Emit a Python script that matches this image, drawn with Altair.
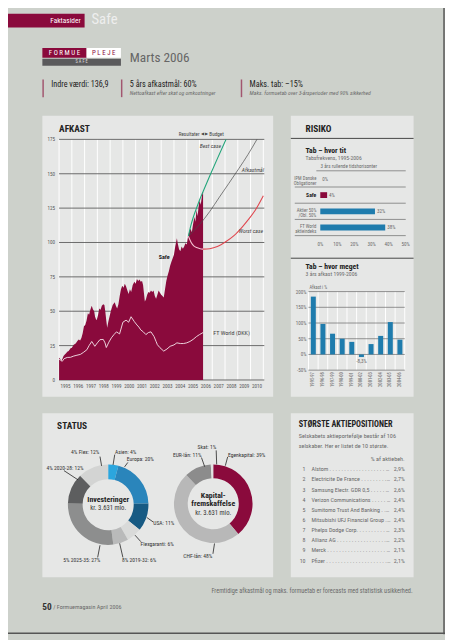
import altair as alt
import pandas as pd

# ------------------------------------------------------------------ data
safe_series = [
    (1995.00, 16.2), (1995.08, 15.5), (1995.17, 14.0), (1995.25, 15.0), (1995.35, 17.5),
    (1995.45, 18.5), (1995.55, 19.5), (1995.64, 20.5), (1995.75, 21.0), (1995.90, 23.0),
    (1996.00, 23.5), (1996.15, 25.7), (1996.30, 26.5), (1996.45, 28.5), (1996.54, 29.5),
    (1996.65, 28.8), (1996.75, 30.5), (1996.85, 34.0), (1996.95, 39.0), (1997.05, 40.0),
    (1997.15, 43.0), (1997.26, 48.6), (1997.35, 47.5), (1997.45, 51.0), (1997.56, 54.0),
    (1997.65, 51.5), (1997.75, 50.0), (1997.82, 46.0), (1997.90, 44.0), (1997.95, 43.6),
    (1998.05, 47.0), (1998.15, 52.0), (1998.25, 51.0), (1998.35, 54.0), (1998.46, 55.0),
    (1998.55, 54.5), (1998.62, 50.0), (1998.70, 43.0), (1998.77, 38.0), (1998.85, 42.0),
    (1998.95, 46.0), (1999.05, 50.0), (1999.20, 54.5), (1999.36, 56.5), (1999.45, 54.0),
    (1999.55, 52.0), (1999.65, 55.0), (1999.75, 61.0), (1999.85, 66.0), (1999.95, 68.5),
    (2000.05, 67.0), (2000.15, 70.0), (2000.25, 68.0), (2000.35, 65.0), (2000.45, 62.5),
    (2000.55, 66.0), (2000.65, 64.0), (2000.77, 69.0), (2000.90, 71.5), (2001.00, 70.0),
    (2001.10, 73.5), (2001.20, 72.0), (2001.30, 73.0), (2001.40, 71.5), (2001.50, 72.0),
    (2001.58, 69.0), (2001.65, 63.0), (2001.72, 57.0), (2001.80, 58.5), (2001.90, 62.0),
    (2002.00, 64.0), (2002.10, 63.5), (2002.20, 65.0), (2002.30, 64.0), (2002.40, 65.0),
    (2002.50, 61.0), (2002.60, 59.0), (2002.70, 62.0), (2002.80, 65.0), (2002.90, 63.5),
    (2003.00, 62.0), (2003.10, 61.0), (2003.20, 60.0), (2003.30, 66.0), (2003.40, 72.0),
    (2003.50, 76.0), (2003.60, 79.0), (2003.70, 83.0), (2003.80, 86.0), (2003.90, 88.5),
    (2004.00, 91.0), (2004.10, 97.0), (2004.23, 103.0), (2004.30, 99.0), (2004.40, 95.0),
    (2004.50, 93.6), (2004.60, 97.0), (2004.70, 95.5), (2004.80, 97.0), (2004.90, 99.5),
    (2005.00, 98.5), (2005.10, 104.0), (2005.20, 108.0), (2005.30, 110.0), (2005.40, 107.5),
    (2005.50, 113.5), (2005.60, 118.6), (2005.68, 115.0), (2005.77, 123.6), (2005.85, 119.0),
    (2005.93, 126.0), (2006.00, 130.7), (2006.10, 127.5), (2006.18, 133.0), (2006.23, 136.4),
    (2006.28, 136.9),
]
ftworld_series = [
    (1995.00, 15.0), (1995.10, 14.5), (1995.25, 13.6), (1995.40, 15.5), (1995.64, 16.4),
    (1995.90, 16.5), (1996.15, 17.4), (1996.40, 18.0), (1996.67, 18.6), (1996.90, 20.0),
    (1997.18, 22.0), (1997.35, 25.0), (1997.56, 28.0), (1997.70, 26.0), (1997.80, 24.5),
    (1998.00, 27.0), (1998.20, 29.3), (1998.46, 29.5), (1998.60, 27.0), (1998.70, 23.6),
    (1998.90, 27.5), (1999.10, 30.7), (1999.30, 33.0), (1999.50, 35.0), (1999.65, 34.0),
    (1999.74, 33.5), (2000.00, 42.0), (2000.25, 43.5), (2000.45, 42.0), (2000.64, 46.0),
    (2000.90, 42.4), (2001.10, 40.0), (2001.25, 38.5), (2001.40, 36.4), (2001.60, 35.0),
    (2001.80, 33.0), (2002.00, 34.5), (2002.20, 35.0), (2002.44, 31.6), (2002.60, 28.0),
    (2002.70, 25.7), (2002.90, 23.5), (2003.20, 21.0), (2003.45, 22.5), (2003.70, 24.5),
    (2004.00, 25.5), (2004.23, 27.0), (2004.50, 26.5), (2004.75, 26.5), (2005.00, 27.0),
    (2005.25, 28.0), (2005.50, 29.5), (2005.77, 31.6), (2006.00, 33.0), (2006.28, 34.5),
]
best_case = [(2005.13, 104.5), (2005.30, 111.5), (2005.50, 118.0), (2005.77, 125.0),
             (2006.05, 132.0), (2006.30, 137.5), (2006.80, 148.3), (2007.40, 161.0),
             (2008.08, 175.0)]
goal_case = [(2005.13, 104.5), (2006.00, 113.0), (2006.80, 122.5), (2007.56, 133.0),
             (2008.30, 143.0), (2009.10, 154.0), (2009.80, 164.0), (2010.50, 175.0)]
worst_case = [(2005.13, 104.5), (2005.35, 100.0), (2005.55, 97.5), (2005.77, 96.3),
              (2006.05, 95.5), (2006.28, 95.2), (2006.80, 95.5), (2007.40, 97.0),
              (2008.08, 100.7), (2008.70, 105.0), (2009.36, 111.4), (2009.90, 117.5),
              (2010.38, 123.6), (2011.00, 134.0)]
afk_yticks = [0, 25, 50, 75, 100, 125, 150, 175]
afk_years = list(range(1995, 2011))

risk_rows = ["IPM Danske\nObligationer", "Safe", "Aktier 50%\n/Obl. 50%", "FT World\naktieindeks"]
risk_vals = [0, 4, 32, 38]
risk_lbls = ["0%", "4%", "32%", "38%"]
risk_ticks = [0, 10, 20, 30, 40, 50]

loss_periods = ["1995-97", "1996-98", "1997-99", "1998-00", "1999-01",
                "2000-02", "2001-03", "2002-04", "2003-05", "2004-06"]
loss_vals = [184, 97, 66, 50, 40, -8.3, 33, 59, 103, 47]
loss_ticks = [200, 150, 100, 50, 0, -50]

inv_names = ["Asien", "Europa", "USA", "Flexgaranti", "8% 2019-32", "5% 2025-35", "4% 2020-28", "4% Flex"]
inv_vals = [4, 20, 11, 6, 6, 27, 12, 12]
inv_colors = ["#2ba6de", "#2a85bb", "#175a83", "#d9dad9", "#b9baba", "#8d8e8e", "#5d5e5f", "#d3d4d3"]

cap_names = ["Egenkapital", "CHF-lån", "EUR-lån", "Skat"]
cap_vals = [39, 49, 11, 1]

top_names = ["Alstom", "Electricite De France", "Samsung Electr. GDR 0,5", "Verizon Communications",
             "Sumitomo Trust And Banking", "Mitsubishi UFJ Financial Group", "Phelps Dodge Corp.",
             "Allianz AG", "Merck", "Pfizer"]
top_shares = ["2,9%", "2,7%", "2,6%", "2,4%", "2,4%", "2,4%", "2,3%", "2,2%", "2,1%", "2,1%"]

# ------------------------------------------------------------------ style
OFF = 8
W, H = 445, 632
PAGE = "#cdd1cb"
PANEL = "#e6e7e6"
MAROON = "#8a0a3c"
BLUE = "#1f7cad"
DARK = "#222222"
GREY = "#6a6a6a"
GRID = "#5c5c5c"
FN = "'Roboto Condensed', 'Liberation Sans Narrow', Lato, sans-serif"
cap_colors = [MAROON, "#b8b8b8", "#8c8c8c", "#e2e2e2"]


def p(v):
    return v - OFF


ONE = pd.DataFrame({"a": [0]})
layers = []


def T(x, y, s, size=6, color=DARK, weight="normal", style="normal", align="left", angle=0):
    kw = dict(text=s, fontSize=size, color=color, fontWeight=weight, fontStyle=style,
              align=align, baseline="middle", font=FN)
    if angle:
        kw["angle"] = angle
    layers.append(alt.Chart(ONE).mark_text(**kw).encode(x=alt.value(p(x)), y=alt.value(p(y))))


def R(x1, y1, x2, y2, color):
    layers.append(alt.Chart(ONE).mark_rect(color=color).encode(
        x=alt.value(max(p(x1), 0)), x2=alt.value(p(x2)), y=alt.value(max(p(y1), 0)), y2=alt.value(p(y2))))


def L(x1, y1, x2, y2, color=DARK, w=0.8):
    layers.append(alt.Chart(ONE).mark_rule(color=color, strokeWidth=w).encode(
        x=alt.value(p(x1)), x2=alt.value(p(x2)), y=alt.value(p(y1)), y2=alt.value(p(y2))))


def S(lo, hi, a, b):
    return alt.Scale(domain=[lo, hi], range=[p(a), p(b)], nice=False, zero=False)


# ------------------------------------------------------------------ header
R(0, 0, 86, 22, MAROON)
T(82, 15, "Faktasider", 7.5, "#ffffff", align="right")
T(93, 14, "Safe", 15, "#eeeeee")
R(43, 43, 88, 53, MAROON)
R(88, 43, 123, 53, "#ffffff")
R(43, 54, 123, 61, "#5a5a5c")
T(65.5, 48.3, "F O R M U E", 7, "#ffffff", align="center")
T(105.5, 48.3, "P L E J E", 7, MAROON, align="center")
T(83, 57.7, "S  A  F  E", 4.5, "#dddddd", align="center")
T(132, 53, "Marts 2006", 13.5, "#666666")
for bx in (43, 123, 245):
    R(bx, 75, bx + 1.5, 93, "#a2566f")
T(52, 81, "Indre værdi: 136,9", 8.3)
T(132, 81, "5 års afkastmål: 60%", 8.3)
T(132, 89, "Nettoafkast efter skat og omkostninger", 5.8, GREY, style="italic")
T(254, 81, "Maks. tab: –15%", 8.3)
T(254, 89, "Maks. formuetab over 3-årsperioder med 90% sikkerhed", 5.8, GREY, style="italic")

# panels
R(43, 112, 278, 398, PANEL)
R(296, 112, 421, 398, PANEL)
R(43, 415, 278, 582, PANEL)
R(296, 415, 421, 582, PANEL)

# ------------------------------------------------------------------ AFKAST
ax = S(1995, 2011, 60, 268)
ay = S(0, 175, 381, 136)
T(60, 125, "AFKAST", 9.5, DARK, weight="bold")

vgrid = pd.DataFrame({"t": list(range(1995, 2012))})
layers.append(alt.Chart(vgrid).mark_rule(color="#ffffff", strokeWidth=1).encode(
    x=alt.X("t:Q", scale=ax, axis=None), y=alt.value(p(136)), y2=alt.value(p(381))))
hgrid = pd.DataFrame({"v": afk_yticks})
layers.append(alt.Chart(hgrid).mark_rule(color=GRID, strokeWidth=0.9).encode(
    y=alt.Y("v:Q", scale=ay, axis=None), x=alt.value(p(60)), x2=alt.value(p(269))))
layers.append(alt.Chart(hgrid).mark_text(align="right", baseline="middle", fontSize=5.2, font=FN, color="#555555").encode(
    y=alt.Y("v:Q", scale=ay, axis=None), x=alt.value(p(56)), text=alt.Text("v:Q")))
ylab = pd.DataFrame({"t": [y + 0.5 for y in afk_years], "s": [str(y) for y in afk_years]})
layers.append(alt.Chart(ylab).mark_text(align="center", baseline="middle", fontSize=5.2, font=FN, color="#555555").encode(
    x=alt.X("t:Q", scale=ax, axis=None), y=alt.value(p(387.5)), text="s:N"))

safe_df = pd.DataFrame(safe_series, columns=["t", "v"])
layers.append(alt.Chart(safe_df).mark_area(color=MAROON).encode(
    x=alt.X("t:Q", scale=ax, axis=None), y=alt.Y("v:Q", scale=ay, axis=None)))
ft_df = pd.DataFrame(ftworld_series, columns=["t", "v"])
layers.append(alt.Chart(ft_df).mark_line(color="#f7e9ee", strokeWidth=0.9).encode(
    x=alt.X("t:Q", scale=ax, axis=None), y=alt.Y("v:Q", scale=ay, axis=None)))
goal_df = pd.DataFrame(goal_case, columns=["t", "v"])
layers.append(alt.Chart(goal_df).mark_line(color="#4a4a4a", strokeWidth=0.7, interpolate="monotone").encode(
    x=alt.X("t:Q", scale=ax, axis=None), y=alt.Y("v:Q", scale=ay, axis=None)))
best_df = pd.DataFrame(best_case, columns=["t", "v"])
layers.append(alt.Chart(best_df).mark_line(color="#22a57a", strokeWidth=1.1, interpolate="monotone").encode(
    x=alt.X("t:Q", scale=ax, axis=None), y=alt.Y("v:Q", scale=ay, axis=None)))
worst_df = pd.DataFrame(worst_case, columns=["t", "v"])
layers.append(alt.Chart(worst_df[worst_df.t <= 2006.28]).mark_line(color="#f6c3d2", strokeWidth=1.1, interpolate="monotone").encode(
    x=alt.X("t:Q", scale=ax, axis=None), y=alt.Y("v:Q", scale=ay, axis=None)))
layers.append(alt.Chart(worst_df[worst_df.t >= 2006.28]).mark_line(color="#e0474f", strokeWidth=1.1, interpolate="monotone").encode(
    x=alt.X("t:Q", scale=ax, axis=None), y=alt.Y("v:Q", scale=ay, axis=None)))

T(203, 131, "Resultater", 5.3, "#444444", align="right")
T(206, 131, "◀", 4.5, "#444444", align="center")
T(210.5, 131, "▶", 4.5, "#444444", align="center")
T(213, 131, "Budget", 5.3, "#444444")
T(225, 143, "Best case", 5.8, "#444444", style="italic", align="right")
T(246, 167, "Afkastmål", 5.8, "#444444", style="italic")
T(243, 229, "Worst case", 5.8, "#444444", style="italic")
T(167, 256, "Safe", 6.2, DARK, weight="bold", align="center")
T(217, 333, "FT World (DKK)", 6.2, "#444444")

# ------------------------------------------------------------------ RISIKO
T(311, 125, "RISIKO", 9.5, DARK, weight="bold")
L(296, 135, 421, 135, "#444444", 1)
T(311, 148, "Tab – hvor tit", 7.8, DARK, weight="bold")
T(311, 155, "Tabsfrekvens, 1995-2006", 5.8, GREY)
T(355, 163, "3 års rullende tidshorisonter", 5.2, GREY, align="center")

rx = S(0, 50, 326, 413)
ry = S(0, 4, 168, 234)
rlines = pd.DataFrame({"i": [1, 2, 3, 4]})
L(322, 168, 413, 168, "#666666", 0.7)
layers.append(alt.Chart(rlines).mark_rule(color="#666666", strokeWidth=0.7).encode(
    y=alt.Y("i:Q", scale=ry, axis=None), x=alt.value(p(300)), x2=alt.value(p(413))))
rdf = pd.DataFrame({"row": risk_rows, "v": risk_vals, "lbl": risk_lbls,
                    "lo": [0] * 4,
                    "c": [BLUE, MAROON, BLUE, BLUE],
                    "yc": [i + 0.5 for i in range(4)],
                    "y0": [i + 0.32 for i in range(4)],
                    "y1": [i + 0.68 for i in range(4)]})
layers.append(alt.Chart(rdf).mark_rect().encode(
    x=alt.X("lo:Q", scale=rx, axis=None), x2="v:Q",
    y=alt.Y("y0:Q", scale=ry, axis=None), y2="y1:Q",
    color=alt.Color("c:N", scale=None)))
layers.append(alt.Chart(rdf[rdf.row != "Safe"]).mark_text(
    align="right", baseline="middle", fontSize=4.8, font=FN, color=GREY, lineBreak="\n", lineHeight=5).encode(
    y=alt.Y("yc:Q", scale=ry, axis=None), x=alt.value(p(322)), text="row:N"))
layers.append(alt.Chart(rdf[rdf.row == "Safe"]).mark_text(
    align="right", baseline="middle", fontSize=5.8, font=FN, color=DARK, fontWeight="bold").encode(
    y=alt.Y("yc:Q", scale=ry, axis=None), x=alt.value(p(322)), text="row:N"))
layers.append(alt.Chart(rdf).mark_text(
    align="left", baseline="middle", fontSize=5.2, font=FN, color=GREY, dx=2).encode(
    y=alt.Y("yc:Q", scale=ry, axis=None), x=alt.X("v:Q", scale=rx, axis=None), text="lbl:N"))
rt = pd.DataFrame({"v": risk_ticks, "s": [f"{t}%" for t in risk_ticks]})
layers.append(alt.Chart(rt).mark_text(
    align="center", baseline="middle", fontSize=5.2, font=FN, color=GREY).encode(
    x=alt.X("v:Q", scale=rx, axis=None), y=alt.value(p(243)), text="s:N"))
L(296, 257, 421, 257, "#444444", 1)

# Tab - hvor meget
T(311, 266, "Tab – hvor meget", 7.8, DARK, weight="bold")
T(311, 273, "3 års afkast 1999-2006", 5.8, GREY)
T(315, 287, "Afkast i %", 4.6, GREY)
lx = S(0, 10, 314, 412)
ly = S(-50, 200, 371, 291)
lv = pd.DataFrame({"i": list(range(0, 11))})
layers.append(alt.Chart(lv).mark_rule(color="#ffffff", strokeWidth=1).encode(
    x=alt.X("i:Q", scale=lx, axis=None), y=alt.value(p(291)), y2=alt.value(p(371))))
lt = pd.DataFrame({"v": loss_ticks, "s": [f"{t}%" for t in loss_ticks]})
layers.append(alt.Chart(lt).mark_rule(color="#666666", strokeWidth=0.7).encode(
    y=alt.Y("v:Q", scale=ly, axis=None), x=alt.value(p(314)), x2=alt.value(p(412))))
layers.append(alt.Chart(lt).mark_text(
    align="right", baseline="middle", fontSize=5.2, font=FN, color=GREY).encode(
    y=alt.Y("v:Q", scale=ly, axis=None), x=alt.value(p(312)), text="s:N"))
ldf = pd.DataFrame({"per": loss_periods, "v": loss_vals, "zero": [0] * 10,
                    "c": [i + 0.5 for i in range(10)],
                    "x0": [i + 0.24 for i in range(10)],
                    "x1": [i + 0.76 for i in range(10)]})
layers.append(alt.Chart(ldf).mark_rect(color=BLUE).encode(
    x=alt.X("x0:Q", scale=lx, axis=None), x2="x1:Q",
    y=alt.Y("zero:Q", scale=ly, axis=None), y2="v:Q"))
layers.append(alt.Chart(ldf).mark_text(
    align="right", baseline="middle", fontSize=4.7, font=FN, color=GREY, angle=270).encode(
    x=alt.X("c:Q", scale=lx, axis=None), y=alt.value(p(373)), text="per:N"))
neg = ldf[ldf.v < 0].assign(s=lambda d: d.v.map(lambda v: f"{v:.1f}%".replace(".", ",")))
layers.append(alt.Chart(neg).mark_text(
    align="center", baseline="middle", fontSize=5.2, font=FN, color=GREY).encode(
    x=alt.X("c:Q", scale=lx, axis=None), y=alt.value(p(361.5)), text="s:N"))

# ------------------------------------------------------------------ STATUS
T(58, 428, "STATUS", 9.5, DARK, weight="bold")
inv = pd.DataFrame({"n": inv_names, "v": inv_vals, "c": inv_colors, "i": list(range(len(inv_names)))})
layers.append(alt.Chart(inv).mark_arc(innerRadius=26, outerRadius=41).encode(
    theta=alt.Theta("v:Q", stack=True), order=alt.Order("i:Q"),
    color=alt.Color("c:N", scale=None), x=alt.value(p(110)), y=alt.value(p(508))))
cap = pd.DataFrame({"n": cap_names, "v": cap_vals, "c": cap_colors, "i": list(range(len(cap_names)))})
layers.append(alt.Chart(cap).mark_arc(innerRadius=26, outerRadius=40).encode(
    theta=alt.Theta("v:Q", stack=True), order=alt.Order("i:Q"),
    color=alt.Color("c:N", scale=None), x=alt.value(p(217)), y=alt.value(p(507))))

T(110, 503, "Investeringer", 8, DARK, weight="bold", align="center")
T(110, 511.5, "kr. 3.631 mio.", 6.8, "#333333", align="center")
T(217, 499, "Kapital-", 8, DARK, weight="bold", align="center")
T(217, 507.5, "fremskaffelse", 8, DARK, weight="bold", align="center")
T(217, 516, "kr. 3.631 mio.", 6.8, "#333333", align="center")

for (x1, y1, x2, y2) in [(101.7, 459, 103.3, 468.5), (116.7, 457, 115, 467.5), (130, 465, 126.7, 469.5),
                         (65, 473.3, 79.3, 482.7), (149.3, 521, 156, 525.7), (137.3, 539, 143.3, 545.7),
                         (101.7, 549.3, 99.3, 561.7), (121.7, 547.3, 125, 561.7),
                         (220, 452.7, 220.5, 467), (205, 460, 208.3, 469.3), (231.7, 459.3, 229.3, 468.3),
                         (216.7, 558, 218.3, 547.5)]:
    L(x1, y1, x2, y2, "#222222", 0.8)

T(101, 454, "4% Flex: 12%", 5.7, "#333333", align="right")
T(117, 454, "Asien: 4%", 5.7, "#333333")
T(129, 462, "Europa: 20%", 5.7, "#333333")
T(85, 471, "4% 2020-28: 12%", 5.7, "#333333", align="right")
T(156, 526.5, "USA: 11%", 5.7, "#333333")
T(143, 548, "Flexgaranti: 6%", 5.7, "#333333")
T(102, 564.5, "5% 2025-35: 27%", 5.7, "#333333", align="right")
T(124, 564.5, "8% 2019-32: 6%", 5.7, "#333333")
T(220, 449.5, "Skat: 1%", 5.7, "#333333", align="right")
T(205, 457.7, "EUR-lån: 11%", 5.7, "#333333", align="right")
T(232, 457.7, "Egenkapital: 39%", 5.7, "#333333")
T(216, 560, "CHF-lån: 48%", 5.7, "#333333", align="right")

# ------------------------------------------------------------------ AKTIEPOSITIONER
T(304, 427, "STØRSTE AKTIEPOSITIONER", 8.3, DARK, weight="bold")
T(304, 438, "Selskabets aktieportefølje består af 106", 6.3, GREY)
T(304, 448, "selskaber. Her er listet de 10 største.", 6.3, GREY)
T(412, 461, "% af aktiebeh.", 6.3, GREY, align="right")
ty = S(1, 10, 472, 565)
tdf = pd.DataFrame({"r": list(range(1, 11)), "num": [str(i) for i in range(1, 11)],
                    "lead": [n + " " + " ." * 45 for n in top_names], "s": top_shares})
layers.append(alt.Chart(tdf).mark_text(align="right", baseline="middle", fontSize=6.1, font=FN, color=GREY).encode(
    y=alt.Y("r:Q", scale=ty, axis=None), x=alt.value(p(311)), text="num:N"))
layers.append(alt.Chart(tdf).mark_text(align="left", baseline="middle", fontSize=6.1, font=FN, color=GREY,
                                       limit=82, ellipsis="").encode(
    y=alt.Y("r:Q", scale=ty, axis=None), x=alt.value(p(317)), text="lead:N"))
layers.append(alt.Chart(tdf).mark_text(align="right", baseline="middle", fontSize=6.1, font=FN, color=GREY).encode(
    y=alt.Y("r:Q", scale=ty, axis=None), x=alt.value(p(412)), text="s:N"))

# ------------------------------------------------------------------ footer
T(420, 596, "Fremtidige afkastmål og maks. formuetab er forecasts med statistisk usikkerhed.", 6.4, GREY, align="right")
T(43, 612, "50", 9.5, "#333333", weight="bold")
T(54, 612.5, "/ Formuemagasin April 2006", 6.2, GREY)
L(452, 0, 452, 640, "#555555", 1.5)
L(0, 639, 453, 639, "#555555", 1.5)

chart = alt.layer(*layers).resolve_scale(
    x="independent", y="independent", color="independent", theta="independent"
).properties(
    width=W, height=H, autosize=alt.AutoSizeParams(type="none"), padding=0, background=PAGE
).configure_view(strokeWidth=0)

chart.save("out.html", embed_options={"renderer": "svg", "actions": False})
